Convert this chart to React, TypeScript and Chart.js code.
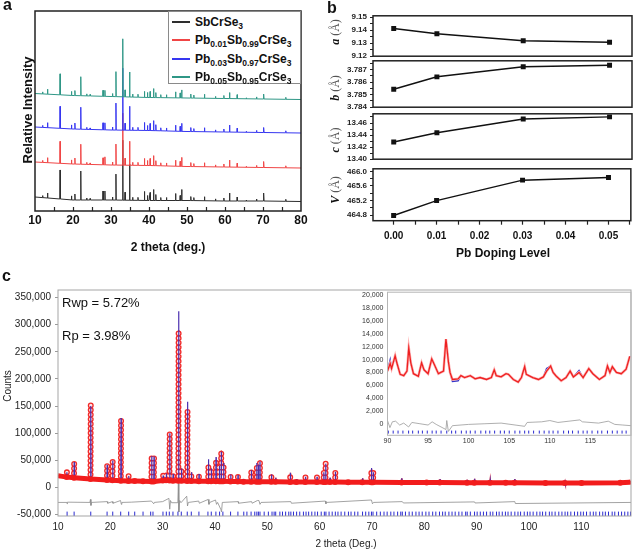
import React, { useEffect, useRef } from 'react';
import { Chart, registerables } from 'chart.js';

Chart.register(...registerables);

const FONT = "'Liberation Sans', Arial, Helvetica, sans-serif";
const SERIF = "'Liberation Serif', 'Times New Roman', serif";

// ---------------- Panel a : XRD patterns ----------------
const xrdLabels = ['SbCrSe3', 'Pb0.01Sb0.99CrSe3', 'Pb0.03Sb0.97CrSe3', 'Pb0.05Sb0.95CrSe3'];
const xrdXTicks = [10, 20, 30, 40, 50, 60, 70, 80];
const xrdInnerTicks = [15, 20, 25, 30, 35, 40, 45, 50, 55, 60, 65, 70, 75];
const xrdPeakPos = [12.0, 13.3, 16.6, 19.6, 20.5, 22.05, 23.6, 24.5, 27.9, 28.4, 30.4, 31.3, 33.1, 33.7, 34.9, 35.7, 37.1, 38.8, 39.6, 40.3, 41.2, 41.8, 43.1, 44.6, 47.0, 48.2, 48.6, 51.0, 51.8, 54.6, 57.5, 59.7, 61.2, 63.2, 65.6, 68.3, 70.2, 76.0];
const xrdHeightBlack = [2, 5, 29, 4, 6, 29, 2, 1.5, 9, 9, 3, 26, 60, 8, 36, 3, 3, 9, 5, 8, 11, 6, 3, 3, 7, 5, 11, 4, 3, 4, 2, 3, 8, 4, 1, 2, 8, 2];
const xrdHeightRed = [2, 5, 22, 4, 6, 20, 2, 1.5, 7, 8, 3, 21, 52, 7, 24, 3, 3, 7, 5, 7, 10, 5, 3, 3, 6, 5, 9, 4, 3, 4, 2, 3, 7, 4, 1, 2, 6, 2];
const xrdHeightBlue = [2, 5, 22, 4, 6, 22, 2, 1.5, 7, 7, 3, 27, 62, 7, 24, 3, 3, 8, 5, 7, 10, 6, 3, 3, 6, 5, 8, 4, 3, 4, 2, 3, 7, 4, 1, 2, 5, 2];
const xrdHeightTeal = [2, 5, 21, 4, 5, 19, 2, 1.5, 6, 6, 3, 25, 58, 7, 25, 3, 3, 6, 5, 6, 9, 5, 3, 3, 6, 5, 8, 4, 3, 4, 2, 3, 6, 4, 1, 2, 5, 2];
const xrdBaseX = [10, 20, 30, 40, 50, 60, 70, 80];
const xrdBaseBlack = [14, 11, 11, 10.5, 10.5, 10, 10, 9.5];
const xrdBaseRed = [49, 47, 46, 45.5, 44.5, 44, 43.5, 43];
const xrdBaseBlue = [84, 82, 81, 80.5, 79.5, 79, 78.5, 78];
const xrdBaseTeal = [117.5, 115.5, 114.5, 113.5, 113, 112.5, 112, 111.5];

// ---------------- Panel b : lattice parameters ----------------
const dopingLevels = [0, 0.01, 0.03, 0.05];
const latticeA = [9.1412, 9.1373, 9.1319, 9.1307];
const latticeB = [3.78543, 3.78642, 3.78723, 3.78735];
const latticeC = [13.4285, 13.4438, 13.4667, 13.4702];
const cellVolume = [464.79, 465.2, 465.76, 465.83];
const dopingTicks = [0, 0.005, 0.01, 0.015, 0.02, 0.025, 0.03, 0.035, 0.04, 0.045, 0.05, 0.055];
const dopingMajor = [0, 0.01, 0.02, 0.03, 0.04, 0.05];
const aMajor = [9.12, 9.13, 9.14, 9.15];
const aMinor = [9.125, 9.135, 9.145];
const bMajor = [3.784, 3.785, 3.786, 3.787];
const bMinor = [3.7845, 3.7855, 3.7865, 3.7875];
const cMajor = [13.4, 13.42, 13.44, 13.46];
const cMinor = [13.41, 13.43, 13.45, 13.47];
const vMajor = [464.8, 465.2, 465.6, 466.0];
const vMinor = [465.0, 465.4, 465.8];

// ---------------- Panel c : Rietveld refinement ----------------
const rietXTicks = [10, 20, 30, 40, 50, 60, 70, 80, 90, 100, 110];
const rietYTicks = [-50000, 0, 50000, 100000, 150000, 200000, 250000, 300000, 350000];
const rietBgX = [10, 10.8, 119.2, 119.5];
const rietBgY = [21500, 20500, 9500, 10500];
const rietPeakPos = [11.7, 13.1, 16.26, 19.4, 20.45, 22.05, 23.5, 24.7, 26.3, 27.9, 28.35, 30.1, 30.7, 31.35, 32.0, 33.05, 33.6, 34.75, 35.5, 36.95, 38.75, 39.3, 40.2, 40.85, 41.2, 41.65, 43.0, 44.4, 45.5, 46.95, 48.0, 48.3, 48.6, 50.8, 51.6, 54.4, 55.6, 57.3, 59.5, 60.8, 61.15, 62.0, 63.0, 65.5, 68.2, 69.9, 70.25, 75.7, 80.5, 83.0, 88.2, 89.6, 92.6, 95.6, 97.3, 103.2, 106.9, 110.1, 117.5];
const rietPeakBase = [19500, 18000, 15500, 13800, 13200, 12600, 12200, 11800, 11500, 11300, 11300, 13000, 13500, 13000, 12500, 12500, 12500, 12000, 12000, 11500, 11500, 11500, 11500, 11500, 11500, 11500, 11000, 11000, 10800, 10800, 10700, 10700, 10700, 10500, 10500, 10300, 10300, 10200, 10000, 10000, 10000, 10000, 10000, 9800, 9700, 9600, 9600, 9400, 9200, 9100, 9000, 9000, 8800, 8700, 8700, 8300, 8200, 8400, 8600];
const rietPeakObs = [28000, 47000, 152000, 42000, 50000, 128000, 22000, 15000, 14000, 56000, 55000, 22000, 26000, 100000, 25000, 290000, 35000, 143000, 28000, 25000, 43000, 35000, 48000, 40000, 68000, 45000, 24000, 23000, 15000, 32000, 38000, 40000, 50000, 24000, 18000, 27000, 15000, 20000, 20000, 28000, 44000, 18000, 29000, 14000, 17000, 34000, 28000, 17000, 12000, 15000, 14000, 16000, 13500, 12000, 15500, 10500, 10500, 11000, 11000];
const rietPeakCalc = [28000, 47000, 150000, 42000, 50000, 128000, 21000, 15000, 14000, 58000, 57000, 22000, 26000, 100000, 25000, 325000, 35000, 158000, 28000, 25000, 52000, 35000, 56000, 40000, 66000, 45000, 24000, 23000, 15000, 32000, 45000, 42000, 48000, 24000, 18000, 27000, 15000, 20000, 20000, 28000, 44000, 18000, 29000, 14000, 17000, 36000, 28000, 17000, 12000, 15000, 14000, 16000, 13500, 12000, 15500, 10500, 10500, 11000, 11000];
const rietDiffX = [10, 11.7, 11.75, 11.8, 16.1, 16.2, 16.3, 16.4, 19.4, 19.5, 20.4, 20.5, 21.95, 22.1, 22.2, 24, 27.85, 28.3, 28.4, 30, 31.2, 31.35, 31.5, 31.7, 32.9, 33.0, 33.1, 33.25, 33.5, 34.6, 34.75, 34.9, 36.9, 37.0, 38.7, 38.85, 39.0, 40.1, 40.3, 40.5, 41.1, 41.25, 41.4, 44.4, 44.5, 47.0, 47.1, 48.1, 48.4, 48.6, 48.8, 54.5, 54.6, 61.1, 61.2, 61.3, 69.9, 70.1, 70.3, 75.8, 76.0, 89.6, 89.7, 97.3, 97.4, 119.5];
const rietDiffY = [-27500, -27500, -30000, -27000, -27500, -22000, -33000, -27500, -26000, -29000, -26000, -29000, -24000, -31000, -27500, -27000, -25000, -30000, -27500, -26000, -20000, -40000, -24000, -28000, -28000, 8000, -45000, -24000, -28000, -16000, -34000, -27500, -25000, -29000, -22000, -31000, -27500, -23000, -31000, -27500, -40000, -45000, -27500, -26000, -29000, -26000, -29000, -24000, -24000, -31000, -27500, -26000, -29000, -25000, -30000, -27500, -23000, -30000, -27500, -26000, -28500, -26500, -28500, -26000, -29500, -27500];
const braggPos = [11.74, 13.08, 16.26, 19.38, 20.46, 21.98, 23.51, 24.66, 26.25, 27.71, 28.15, 30.06, 30.7, 31.27, 31.97, 32.92, 33.56, 34.7, 35.47, 36.93, 38.65, 39.29, 40.17, 40.88, 41.51, 42.98, 44.38, 45.5, 46.1, 46.9, 47.6, 48.0, 48.3, 48.6, 49.4, 50.2, 50.9, 51.3, 51.6, 52.4, 52.9, 53.5, 54.1, 54.5, 55.0, 55.6, 56.2, 56.9, 57.4, 57.9, 58.5, 59.1, 59.6, 60.3, 60.9, 61.2, 61.8, 62.4, 63.0, 63.5, 64.1, 64.8, 65.5, 66.0, 66.7, 67.3, 68.2, 68.8, 69.4, 69.9, 70.2, 70.9, 71.6, 72.3, 72.9, 73.6, 74.2, 74.9, 75.5, 75.8, 76.4, 77.1, 77.7, 78.4, 79.0, 79.6, 80.3, 80.9, 81.6, 82.2, 82.9, 83.5, 84.0, 84.7, 85.3, 85.9, 86.6, 87.2, 87.9, 88.2, 88.8, 89.6, 90.1, 90.7, 91.3, 91.9, 92.6, 93.1, 93.8, 94.3, 94.9, 95.5, 96.0, 96.6, 97.3, 97.9, 98.4, 99.1, 99.7, 100.2, 100.8, 101.5, 102.1, 102.6, 103.2, 103.9, 104.4, 105.0, 105.7, 106.3, 106.9, 107.4, 108.0, 108.7, 109.3, 109.9, 110.4, 111.0, 111.7, 112.3, 112.8, 113.5, 114.1, 114.6, 115.2, 115.9, 116.4, 117.1, 117.7, 118.3, 118.9, 119.4];

// inset (90-120 deg zoom)
const insetXTicks = [90, 95, 100, 105, 110, 115];
const insetYTicks = [0, 2000, 4000, 6000, 8000, 10000, 12000, 14000, 16000, 18000, 20000];
const insetX = [90.0, 90.33, 90.5, 90.94, 91.15, 91.56, 92.0, 92.4, 92.62, 92.87, 93.2, 93.8, 94.2, 94.5, 95.0, 95.45, 95.78, 96.27, 96.9, 97.2, 97.5, 97.7, 98.0, 98.7, 99.05, 99.5, 100.2, 100.8, 101.4, 102.2, 102.8, 103.15, 103.4, 104.0, 104.6, 104.9, 105.5, 106.1, 106.5, 106.9, 107.1, 107.9, 108.6, 109.2, 109.6, 110.1, 110.4, 110.8, 111.4, 112.0, 112.5, 112.9, 113.6, 114.1, 114.8, 115.3, 116.1, 116.8, 117.1, 117.4, 117.7, 118.2, 118.8, 119.4, 119.85];
const insetObs = [8200, 9400, 8600, 10600, 9500, 7700, 7500, 8200, 11800, 9500, 7800, 7400, 9500, 8400, 7800, 10100, 9200, 7800, 8200, 13200, 9700, 8000, 6900, 7000, 7500, 7200, 7500, 7000, 7200, 6900, 7200, 8400, 7500, 7300, 7800, 7700, 6900, 6500, 7200, 8900, 7700, 7200, 6900, 7300, 8200, 9000, 8000, 7400, 6700, 7200, 8200, 7300, 8000, 7200, 8600, 7800, 6900, 7500, 9000, 8000, 8900, 8000, 7800, 8500, 10500];
const insetCalc = [8200, 10000, 8600, 10600, 9500, 7700, 7500, 8200, 11800, 9500, 7800, 7400, 9500, 8400, 7800, 10100, 9200, 7800, 8200, 13200, 9700, 8000, 6600, 6700, 7500, 7200, 7500, 7000, 7200, 6900, 7200, 8400, 7500, 7300, 7800, 7700, 6900, 6500, 7200, 8900, 7700, 7200, 6900, 7300, 8600, 9000, 8000, 7400, 6700, 7200, 8200, 7300, 8300, 7200, 8600, 7800, 6900, 7500, 9000, 8000, 8700, 8000, 7800, 8500, 10500];
const insetDiffX = [90, 90.3, 90.6, 91, 91.5, 92, 92.6, 93, 94, 95, 95.5, 96, 97.2, 97.3, 97.5, 98, 100, 102, 104, 106.9, 107.2, 109, 110, 111, 113.7, 114, 116, 117.2, 118, 119, 120];
const insetDiffY = [500, -600, 300, 400, -200, 100, -500, 200, 0, -200, 300, -100, -900, 500, -1200, -300, -100, 0, 100, -400, 200, 300, 500, 200, 600, 300, 100, 400, -100, -200, -300];

type Pt = { x: number; y: number | null };

function interp(xs: number[], ys: number[], x: number) {
  for (let i = 0; i < xs.length - 1; i++) {
    if (x <= xs[i + 1]) {
      const t = (x - xs[i]) / (xs[i + 1] - xs[i]);
      return ys[i] + t * (ys[i + 1] - ys[i]);
    }
  }
  return ys[ys.length - 1];
}

function xrdSeries(heights: number[], base: number[]): Pt[] {
  const pts: Pt[] = xrdBaseX.map((x, i) => ({ x, y: base[i] }));
  xrdPeakPos.forEach((p, i) => {
    const b = interp(xrdBaseX, base, p);
    pts.push({ x: p - 0.07, y: b }, { x: p, y: b + heights[i] }, { x: p + 0.07, y: b });
  });
  return pts.sort((a, b) => a.x - b.x);
}

function rietSeries(heights: number[] | null): Pt[] {
  const pts: Pt[] = rietBgX.map((x, i) => ({ x, y: rietBgY[i] }));
  rietPeakPos.forEach((p, i) => {
    const b = rietPeakBase[i];
    pts.push({ x: p - 0.05, y: b });
    if (heights) pts.push({ x: p, y: heights[i] });
    pts.push({ x: p + 0.05, y: b });
  });
  return pts.sort((a, b) => a.x - b.x);
}

// observed points along the rising flank of every reflection (gap after the top)
function rietRising(heights: number[]): Pt[] {
  const pts: Pt[] = [];
  rietPeakPos.forEach((p, i) => {
    pts.push({ x: p - 0.05, y: rietPeakBase[i] }, { x: p, y: heights[i] }, { x: p + 0.01, y: null });
  });
  return pts;
}

const zip = (xs: number[], ys: number[]): Pt[] => xs.map((x, i) => ({ x, y: ys[i] }));
const setTicks = (list: number[]) => (s: any) => {
  s.ticks = list.map((v) => ({ value: v }));
};
const isIn = (list: number[], v: number) => list.some((m) => Math.abs(m - v) < 1e-9);

const baseOpts = {
  responsive: false,
  animation: false,
  events: [],
  plugins: { legend: { display: false }, tooltip: { enabled: false } },
};

const frame = (color: string, width: number) => ({
  id: 'frame',
  afterDraw(chart: any) {
    const { ctx, chartArea: a } = chart;
    ctx.save();
    ctx.strokeStyle = color;
    ctx.lineWidth = width;
    ctx.strokeRect(a.left, a.top, a.right - a.left, a.bottom - a.top);
    ctx.restore();
  },
});

const innerTicks = {
  id: 'innerTicks',
  afterDraw(chart: any) {
    const { ctx, chartArea: a, scales } = chart;
    ctx.save();
    ctx.strokeStyle = '#222';
    ctx.lineWidth = 1.2;
    ctx.beginPath();
    xrdInnerTicks.forEach((v) => {
      const px = Math.round(scales.x.getPixelForValue(v)) + 0.5;
      ctx.moveTo(px, a.bottom);
      ctx.lineTo(px, a.bottom - 4);
    });
    ctx.stroke();
    ctx.restore();
  },
};

function ChartBox({ left, top, width, height, make }: { left: number; top: number; width: number; height: number; make: () => any }) {
  const ref = useRef<HTMLCanvasElement>(null);
  useEffect(() => {
    const c = new Chart(ref.current as HTMLCanvasElement, make());
    return () => c.destroy();
  }, []);
  return (
    <div style={{ position: 'absolute', left, top, width, height }}>
      <canvas ref={ref} width={width} height={height} style={{ display: 'block', width, height }} />
    </div>
  );
}

// ---------- configs ----------
const xrdColors = ['#2e2e2e', '#f04545', '#3636f0', '#2f9786'];

const makeXrd = () => {
  const sets = [
    xrdSeries(xrdHeightBlack, xrdBaseBlack),
    xrdSeries(xrdHeightRed, xrdBaseRed),
    xrdSeries(xrdHeightBlue, xrdBaseBlue),
    xrdSeries(xrdHeightTeal, xrdBaseTeal),
  ];
  return {
    type: 'line',
    data: {
      datasets: sets.map((d, i) => ({
        data: d,
        borderColor: xrdColors[i],
        borderWidth: 1,
        pointRadius: 0,
        tension: 0,
        order: 3 - i,
      })),
    },
    options: {
      ...baseOpts,
      layout: { padding: { left: 0, top: 11, right: 19, bottom: 0 } },
      scales: {
        x: {
          type: 'linear',
          min: 10,
          max: 80,
          afterFit: (s: any) => { s.height = 49; },
          afterBuildTicks: setTicks(xrdXTicks),
          grid: { display: false, drawTicks: false },
          border: { display: false },
          ticks: { padding: 2, color: '#111', autoSkip: false, maxRotation: 0, font: { family: FONT, size: 12, weight: 'bold' } },
        },
        y: {
          min: 0,
          max: 200,
          afterFit: (s: any) => { s.width = 35; },
          grid: { display: false, drawTicks: false },
          border: { display: false },
          ticks: { display: false },
        },
      },
    },
    plugins: [frame('#222', 1.5), innerTicks],
  };
};

const makeLattice = (vals: number[], min: number, max: number, major: number[], minor: number[], dec: number, showX: boolean) => () => ({
  type: 'line',
  data: {
    datasets: [
      {
        data: zip(dopingLevels, vals),
        borderColor: '#111',
        borderWidth: 1.5,
        pointStyle: 'rect',
        pointRadius: 3.5,
        pointBackgroundColor: '#111',
        pointBorderColor: '#111',
        pointBorderWidth: 0,
        tension: 0,
      },
    ],
  },
  options: {
    ...baseOpts,
    layout: { padding: { left: 0, right: 3, top: 6, bottom: showX ? 0 : 6 } },
    scales: {
      x: {
        type: 'linear',
        min: -0.0048,
        max: 0.0552,
        display: showX,
        afterFit: (s: any) => { s.height = showX ? 39.3 : 0; },
        afterBuildTicks: setTicks(dopingTicks),
        grid: { drawOnChartArea: false, drawTicks: true, tickLength: 4, tickColor: '#222', tickWidth: 1.2 },
        border: { display: false },
        ticks: {
          padding: 6,
          color: '#111',
          autoSkip: false,
          maxRotation: 0,
          font: { family: FONT, size: 10, weight: 'bold' },
          callback: (v: any) => (isIn(dopingMajor, Number(v)) ? Number(v).toFixed(2) : ''),
        },
      },
      y: {
        min,
        max,
        afterFit: (s: any) => { s.width = 53; },
        afterBuildTicks: setTicks([...major, ...minor].sort((a, b) => a - b)),
        grid: { drawOnChartArea: false, drawTicks: true, tickLength: 3, tickColor: '#222', tickWidth: 1 },
        border: { display: false },
        ticks: {
          padding: 3,
          color: '#222',
          autoSkip: false,
          font: { family: FONT, size: 8, weight: 'bold' },
          callback: (v: any) => (isIn(major, Number(v)) ? Number(v).toFixed(dec) : ''),
        },
      },
    },
  },
  plugins: [frame('#222', 1.5)],
});

const makeRiet = () => {
  const rising = rietRising(rietPeakObs);
  return {
    type: 'line',
    data: {
      datasets: [
        { data: braggPos.map((x) => ({ x, y: -49000 })), showLine: false, pointStyle: 'line', rotation: 90, pointRadius: 2.5, pointBorderColor: '#2a2ad0', pointBorderWidth: 1, order: 0 },
        { data: rietSeries(null), borderColor: '#f21c1c', borderWidth: 5, pointRadius: 0, tension: 0, order: 1 },
        { data: rietSeries(rietPeakCalc), borderColor: '#4a2fb0', borderWidth: 1.2, pointRadius: 0, tension: 0, order: 2 },
        { data: rising, borderColor: '#ffe0e0', borderWidth: 3.4, borderDash: [0, 4.6], borderCapStyle: 'round', pointRadius: 0, tension: 0, spanGaps: false, order: 3 },
        { data: rising, borderColor: '#f02a2a', borderWidth: 6, borderDash: [0, 4.6], borderCapStyle: 'round', pointRadius: 0, tension: 0, spanGaps: false, order: 4 },
        { data: rietSeries(rietPeakObs), borderColor: '#f23030', borderWidth: 1.5, pointRadius: 0, tension: 0, order: 6 },
        { data: zip(rietDiffX, rietDiffY), borderColor: '#8c8c8c', borderWidth: 0.8, pointRadius: 0, tension: 0, order: 5 },
      ],
    },
    options: {
      ...baseOpts,
      layout: { padding: { left: 0, top: 8, right: 3, bottom: 0 } },
      scales: {
        x: {
          type: 'linear',
          min: 10,
          max: 119.5,
          afterFit: (s: any) => { s.height = 35; },
          afterBuildTicks: setTicks(rietXTicks),
          grid: { display: false, drawTicks: false },
          border: { display: false },
          ticks: { padding: 5, color: '#222', autoSkip: false, maxRotation: 0, font: { family: FONT, size: 10 } },
        },
        y: {
          min: -52500,
          max: 364000,
          afterFit: (s: any) => { s.width = 58; },
          afterBuildTicks: setTicks(rietYTicks),
          grid: { drawOnChartArea: false, drawTicks: true, tickLength: 3, tickColor: '#999' },
          border: { display: false },
          ticks: { padding: 4, color: '#222', autoSkip: false, font: { family: FONT, size: 10 }, callback: (v: any) => Number(v).toLocaleString('en-US') },
        },
      },
    },
    plugins: [frame('#a5a5a5', 1)],
  };
};

const makeInset = () => ({
  type: 'line',
  data: {
    datasets: [
      { data: braggPos.filter((x) => x >= 90).map((x) => ({ x, y: -1300 })), showLine: false, pointStyle: 'line', rotation: 90, pointRadius: 1.5, pointBorderColor: '#2a2ad0', pointBorderWidth: 1, order: 0 },
      { data: zip(insetX, insetObs), borderColor: '#ee2020', borderWidth: 1.3, pointRadius: 0, tension: 0, order: 1 },
      { data: zip(insetX, insetObs), borderColor: '#ffb4b4', borderWidth: 2.6, pointRadius: 0, tension: 0, order: 3 },
      { data: zip(insetX, insetCalc), borderColor: '#3434c8', borderWidth: 1.4, pointRadius: 0, tension: 0, order: 4 },
      { data: zip(insetDiffX, insetDiffY), borderColor: '#9a9a9a', borderWidth: 0.8, pointRadius: 0, tension: 0, order: 5 },
    ],
  },
  options: {
    ...baseOpts,
    layout: { padding: { left: 0, top: 6.3, right: 5, bottom: 0 } },
    scales: {
      x: {
        type: 'linear',
        min: 90,
        max: 120,
        afterFit: (s: any) => { s.height = 13.7; },
        afterBuildTicks: setTicks(insetXTicks),
        grid: { display: false, drawTicks: false },
        border: { display: false },
        ticks: { padding: 2, color: '#333', autoSkip: false, maxRotation: 0, font: { family: FONT, size: 7 } },
      },
      y: {
        min: -1800,
        max: 20500,
        afterFit: (s: any) => { s.width = 37.5; },
        afterBuildTicks: setTicks(insetYTicks),
        grid: { display: false, drawTicks: false },
        border: { display: false },
        ticks: { padding: 4, color: '#333', autoSkip: false, font: { family: FONT, size: 7 }, callback: (v: any) => Number(v).toLocaleString('en-US') },
      },
    },
  },
  plugins: [frame('#b5b5b5', 1)],
});

// ---------- text helpers ----------
function T({ x, y, size, weight = 'normal', align = 'left', color = '#111', family = FONT, children }: any) {
  const tx = align === 'center' ? '-50%' : align === 'right' ? '-100%' : '0';
  return (
    <div style={{ position: 'absolute', left: x, top: y - 0.85 * size, fontSize: size, lineHeight: `${size}px`, fontFamily: family, fontWeight: weight, color, whiteSpace: 'nowrap', transform: `translateX(${tx})` }}>
      {children}
    </div>
  );
}

function RT({ cx, cy, size, weight = 'normal', color = '#111', family = FONT, children }: any) {
  return (
    <div style={{ position: 'absolute', left: cx, top: cy, fontSize: size, lineHeight: `${size}px`, fontFamily: family, fontWeight: weight, color, whiteSpace: 'nowrap', transform: 'translate(-50%,-50%) rotate(-90deg)' }}>
      {children}
    </div>
  );
}

function Formula({ text }: { text: string }) {
  const parts = text.split(/(\d+(?:\.\d+)?)/);
  return (
    <>
      {parts.map((p, i) =>
        i % 2 ? (
          <span key={i} style={{ fontSize: 8.5, position: 'relative', top: 3 }}>{p}</span>
        ) : (
          <span key={i}>{p}</span>
        ),
      )}
    </>
  );
}

function LatticeTitle({ cy, letter }: { cy: number; letter: string }) {
  return (
    <RT cx={335} cy={cy} size={12} family={SERIF}>
      <span style={{ fontStyle: 'italic', fontWeight: 'bold' }}>{letter}</span>
      <span style={{ color: '#555' }}> (Å)</span>
    </RT>
  );
}

export default function App() {
  const legendY = [22, 40, 59, 77];
  return (
    <div style={{ position: 'absolute', left: 0, top: 0, width: 636, height: 551, overflow: 'hidden', background: '#fff' }}>
      {/* Panel a */}
      <ChartBox left={0} top={0} width={320} height={260} make={makeXrd} />
      <div style={{ position: 'absolute', left: 168, top: 11, width: 133, height: 73, border: '1px solid #8a8a8a', background: '#fff', boxSizing: 'border-box' }} />
      {xrdLabels.map((lab, i) => (
        <React.Fragment key={lab}>
          <div style={{ position: 'absolute', left: 172, top: legendY[i] - 1, width: 18, height: 1.5, background: xrdColors[i] }} />
          <T x={195} y={legendY[i] + 4} size={12} weight="bold" color="#111">
            <Formula text={lab} />
          </T>
        </React.Fragment>
      ))}
      <T x={3} y={10.5} size={16} weight="bold">a</T>
      <RT cx={27} cy={110} size={13} weight="bold">Relative Intensity</RT>
      <T x={168} y={251} size={12} weight="bold" align="center">2 theta (deg.)</T>

      {/* Panel b */}
      <ChartBox left={320} top={8} width={316} height={56} make={makeLattice(latticeA, 9.12, 9.151, aMajor, aMinor, 2, false)} />
      <ChartBox left={320} top={53} width={316} height={62} make={makeLattice(latticeB, 3.784, 3.7877, bMajor, bMinor, 3, false)} />
      <ChartBox left={320} top={106} width={316} height={61} make={makeLattice(latticeC, 13.4, 13.4753, cMajor, cMinor, 2, false)} />
      <ChartBox left={320} top={161} width={316} height={99} make={makeLattice(cellVolume, 464.65, 466.07, vMajor, vMinor, 1, true)} />
      <T x={327} y={14} size={16} weight="bold">b</T>
      <LatticeTitle cy={32} letter="a" />
      <LatticeTitle cy={88} letter="b" />
      <LatticeTitle cy={140} letter="c" />
      <LatticeTitle cy={190} letter="V" />
      <T x={503} y={257} size={12} weight="bold" align="center">Pb Doping Level</T>

      {/* Panel c */}
      <ChartBox left={0} top={280} width={636} height={271} make={makeRiet} />
      <ChartBox left={350} top={284} width={286} height={165} make={makeInset} />
      <T x={2} y={282} size={16} weight="bold">c</T>
      <T x={62} y={307.5} size={13} color="#111">Rwp = 5.72%</T>
      <T x={62} y={340} size={13} color="#111">Rp = 3.98%</T>
      <RT cx={8} cy={386} size={10} color="#222">Counts</RT>
      <T x={346} y={547.5} size={10} align="center" color="#222">2 theta (Deg.)</T>
    </div>
  );
}
